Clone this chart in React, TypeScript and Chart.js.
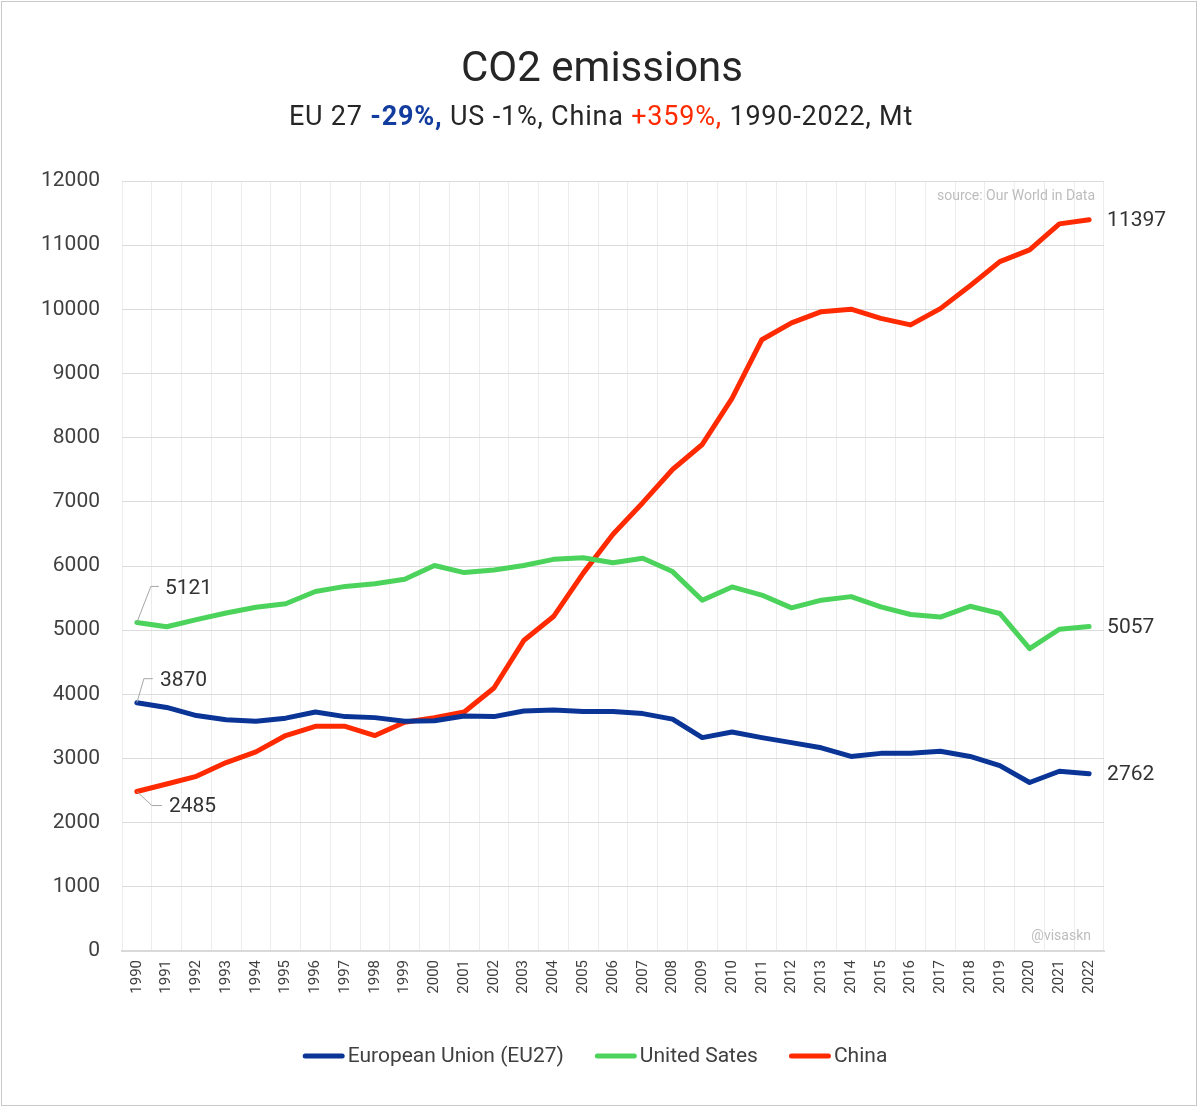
import React, { useEffect, useRef } from "react";
import { Chart, registerables } from "chart.js";

Chart.register(...registerables);

const years = [
  "1990", "1991", "1992", "1993", "1994", "1995", "1996", "1997", "1998", "1999",
  "2000", "2001", "2002", "2003", "2004", "2005", "2006", "2007", "2008", "2009",
  "2010", "2011", "2012", "2013", "2014", "2015", "2016", "2017", "2018", "2019",
  "2020", "2021", "2022",
];

const euValues = [
  3870, 3796, 3669, 3605, 3581, 3629, 3724, 3653, 3637, 3581,
  3589, 3661, 3653, 3740, 3756, 3732, 3732, 3700, 3613, 3326,
  3414, 3326, 3247, 3167, 3032, 3080, 3080, 3112, 3032, 2889,
  2626, 2801, 2762,
];

const usValues = [
  5121, 5053, 5165, 5268, 5356, 5411, 5602, 5682, 5722, 5793,
  6008, 5897, 5937, 6008, 6104, 6128, 6052, 6120, 5913, 5467,
  5674, 5547, 5348, 5467, 5523, 5364, 5244, 5204, 5372, 5260,
  4711, 5014, 5057,
];

const chinaValues = [
  2485, 2602, 2722, 2937, 3104, 3358, 3502, 3502, 3358, 3565,
  3637, 3724, 4098, 4838, 5212, 5889, 6494, 6987, 7504, 7894,
  8611, 9526, 9788, 9963, 10003, 9860, 9757, 10011, 10369, 10743,
  10926, 11332, 11397,
];

const seriesNames = ["European Union (EU27)", "United Sates", "China"];
const seriesColors = ["#0a3596", "#4cd35c", "#ff2a00"];

const yMin = 0;
const yMax = 12000;
const yStep = 1000;

const titleText = "CO2 emissions";
const subtitleParts = [
  { text: "EU 27 ", color: "#262626", bold: false },
  { text: "-29%,", color: "#123c9e", bold: true },
  { text: " US -1%, China ", color: "#262626", bold: false },
  { text: "+359%,", color: "#ff2a00", bold: false },
  { text: " 1990-2022, Mt", color: "#262626", bold: false },
];
const sourceText = "source: Our World in Data";
const watermarkText = "@visaskn";

const FONT = "Roboto, 'Noto Sans', sans-serif";

const overlayPlugin = {
  id: "overlay",
  beforeDraw(chart: any) {
    const ctx = chart.ctx;
    ctx.save();
    ctx.fillStyle = "#ffffff";
    ctx.fillRect(0, 0, chart.width, chart.height);
    ctx.restore();
  },
  afterDraw(chart: any) {
    const ctx = chart.ctx;
    const xs = chart.scales.x;
    const ys = chart.scales.y;
    const area = chart.chartArea;
    ctx.save();

    // outer frame
    ctx.strokeStyle = "#c9c9c9";
    ctx.lineWidth = 1;
    ctx.strokeRect(1.5, 1.5, chart.width - 5, chart.height - 4);

    // title
    ctx.fillStyle = "#262626";
    ctx.textBaseline = "middle";
    ctx.textAlign = "center";
    ctx.font = `400 42px ${FONT}`;
    ctx.fillText(titleText, 602, 70);

    // subtitle (mixed styles)
    ctx.textAlign = "left";
    try {
      (ctx as any).letterSpacing = "0.8px";
    } catch (e) {}
    const fontFor = (b: boolean) => `${b ? 700 : 400} 27px ${FONT}`;
    let total = 0;
    for (const p of subtitleParts) {
      ctx.font = fontFor(p.bold);
      total += ctx.measureText(p.text).width;
    }
    let cx = 601 - total / 2;
    for (const p of subtitleParts) {
      ctx.font = fontFor(p.bold);
      ctx.fillStyle = p.color;
      ctx.fillText(p.text, cx, 118);
      cx += ctx.measureText(p.text).width;
    }
    try {
      (ctx as any).letterSpacing = "0px";
    } catch (e) {}

    // source & watermark
    ctx.font = `400 14px ${FONT}`;
    ctx.fillStyle = "#bdbdbd";
    ctx.textAlign = "right";
    ctx.fillText(sourceText, area.right - 9, area.top + 15);
    ctx.fillText(watermarkText, area.right - 13, area.bottom - 15);

    // end labels
    const sets = [euValues, usValues, chinaValues];
    ctx.font = `400 21px ${FONT}`;
    ctx.fillStyle = "#333333";
    ctx.textAlign = "left";
    const last = years.length - 1;
    for (const s of sets) {
      const px = xs.getPixelForValue(last);
      const py = ys.getPixelForValue(s[last]);
      ctx.fillText(String(s[last]), px + 18, py + 1);
    }

    // start labels with leader lines
    const leaders = [
      { s: euValues, dx1: 7, dy1: -24, dx2: 16, tx: 23, ty: -22 },
      { s: usValues, dx1: 14, dy1: -36, dx2: 22, tx: 28, ty: -34 },
      { s: chinaValues, dx1: 15, dy1: 14, dx2: 25, tx: 32, ty: 15 },
    ];
    for (const l of leaders) {
      const px = xs.getPixelForValue(0);
      const py = ys.getPixelForValue(l.s[0]);
      ctx.strokeStyle = "#a6a6a6";
      ctx.lineWidth = 1;
      ctx.beginPath();
      ctx.moveTo(px, py);
      ctx.lineTo(px + l.dx1, py + l.dy1);
      ctx.lineTo(px + l.dx2, py + l.dy1);
      ctx.stroke();
      ctx.fillStyle = "#333333";
      ctx.fillText(String(l.s[0]), px + l.tx, py + l.ty);
    }

    // legend (line samples + text)
    ctx.font = `400 21px ${FONT}`;
    const lineW = 42;
    const gap = 3;
    const spacing = 31;
    const items = chart.data.datasets.map((d: any) => ({
      text: d.label as string,
      color: d.borderColor as string,
      w: ctx.measureText(d.label).width,
    }));
    let legendTotal = 0;
    items.forEach((it: any, i: number) => {
      legendTotal += lineW + gap + it.w + (i < items.length - 1 ? spacing : 0);
    });
    let lx = 595 - legendTotal / 2;
    const ly = 1056;
    for (const it of items) {
      ctx.strokeStyle = it.color;
      ctx.lineWidth = 5;
      ctx.lineCap = "round";
      ctx.beginPath();
      ctx.moveTo(lx + 2.5, ly);
      ctx.lineTo(lx + lineW - 2.5, ly);
      ctx.stroke();
      ctx.fillStyle = "#404040";
      ctx.textAlign = "left";
      ctx.textBaseline = "middle";
      ctx.fillText(it.text, lx + lineW + gap, ly + 1);
      lx += lineW + gap + it.w + spacing;
    }
    ctx.restore();
  },
};

export default function App() {
  const ref = useRef<HTMLCanvasElement | null>(null);

  useEffect(() => {
    if (!ref.current) return;
    const datasets = [euValues, usValues, chinaValues].map((vals, i) => ({
      label: seriesNames[i],
      data: vals,
      borderColor: seriesColors[i],
      backgroundColor: seriesColors[i],
      borderWidth: 5,
      pointRadius: 0,
      pointHoverRadius: 0,
      tension: 0,
      borderJoinStyle: "round" as const,
      borderCapStyle: "round" as const,
      fill: false,
      yAxisID: "y",
    }));

    const chart = new Chart(ref.current, {
      type: "line",
      data: { labels: years, datasets },
      plugins: [overlayPlugin],
      options: {
        responsive: false,
        animation: false,
        maintainAspectRatio: false,
        layout: { padding: { left: 0, right: 0, top: 181, bottom: 92 } },
        scales: {
          x: {
            offset: true,
            grid: { offset: true, color: "#ececec", lineWidth: 1, drawTicks: false },
            border: { display: true, color: "#d9d9d9", width: 2 },
            ticks: {
              autoSkip: false,
              maxRotation: 90,
              minRotation: 90,
              padding: 9,
              color: "#404040",
              font: { family: FONT, size: 15 },
            },
            afterFit: (s: any) => {
              s.height = 65;
            },
          },
          y: {
            position: "left",
            min: yMin,
            max: yMax,
            grid: { color: "#dcdcdc", lineWidth: 1, drawTicks: false },
            border: { display: false },
            ticks: {
              stepSize: yStep,
              padding: 22,
              color: "#404040",
              font: { family: FONT, size: 21 },
              callback: (v: any) => String(v),
            },
            afterFit: (s: any) => {
              s.width = 122;
            },
          },
          yRight: {
            type: "linear",
            position: "right",
            display: true,
            min: yMin,
            max: yMax,
            grid: { display: false, drawTicks: false },
            border: { display: false },
            ticks: { display: false },
            afterFit: (s: any) => {
              s.width = 96;
            },
          },
        },
        plugins: {
          title: { display: false },
          tooltip: { enabled: false },
          legend: { display: false },
        },
      },
    });
    return () => chart.destroy();
  }, []);

  return (
    <div style={{ position: "absolute", left: 0, top: 0, width: 1200, height: 1108, background: "#fff" }}>
      <canvas ref={ref} width={1200} height={1108} style={{ display: "block", width: 1200, height: 1108 }} />
    </div>
  );
}
